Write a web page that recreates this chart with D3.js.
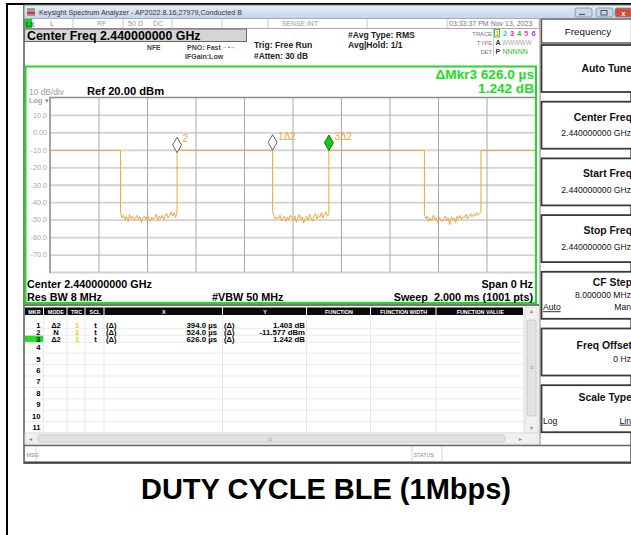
<!DOCTYPE html>
<html>
<head>
<meta charset="utf-8">
<script src="https://cdn.jsdelivr.net/npm/d3@7"></script>
<style>
body { margin: 0; background: #fff; }
svg { display: block; font-family: "Liberation Sans", Arial, sans-serif; }
</style>
</head>
<body>
<script>
// values
var yTickValues = [10, 0, -10, -20, -30, -40, -50, -60, -70];
var yTickLabels = ["10.0", "0.00", "-10.0", "-20.0", "-30.0", "-40.0", "-50.0", "-60.0", "-70.0"];
var xGridTimes = [0.2, 0.4, 0.6, 0.8, 1.0, 1.2, 1.4, 1.6, 1.8]; // ms
var burstOn = [0, 0.524, 1.150, 1.777];      // ms
var burstOff = [0.291, 0.918, 1.544, 2.0];   // ms
var burstLevel = [-10.3, -10.2, -10.3, -10.3]; // dBm
// noise floor between bursts (dBm)
var gap1 = [-46, -49, -47.5, -50, -48, -51, -47, -49.5, -48, -50.5, -49, -47.5, -50, -48.5, -51.5, -49, -48, -50, -47.5, -49,
  -51, -48.5, -50, -49, -47, -50.5, -48, -49.5, -47.5, -50, -48, -46.5, -49, -47.5, -45.5, -48, -46, -49, -45];
var gap2 = [-45.5, -48, -50, -48.5, -49.5, -47.5, -50.5, -49, -48, -51, -48.5, -50, -47.5, -49, -50.5, -48, -51.5, -49, -47, -50,
  -48.5, -52, -49.5, -48, -50.5, -47, -49, -51, -48, -46.5, -49.5, -47.5, -48.5, -46, -49, -47, -45.5, -48, -46.5];
var gap3 = [-47, -49.5, -48, -51, -49, -50.5, -47.5, -50, -49, -52, -48.5, -50, -51, -49.5, -48, -50.5, -49, -53, -48.5, -50,
  -49, -51.5, -48, -49.5, -47.5, -50, -48.5, -49, -47, -49.5, -48, -46.5, -48.5, -47, -48, -46, -47.5, -46.5, -45.5];
var gaps = [gap1, gap2, gap3];

var markerNames = ["1\u03942", "2", "3\u03942"];
var markerTimes = [0.918, 0.524, 1.150];
var markerLevels = [-10.174, -11.577, -10.335];

var tableHeads = ["MKR", "MODE", "TRC", "SCL", "X", "Y", "FUNCTION", "FUNCTION WIDTH", "FUNCTION VALUE"];
var tableRows = ["1", "2", "3", "4", "5", "6", "7", "8", "9", "10", "11"];
var rowModes = ["\u03942", "N", "\u03942"];
var rowX = ["394.0 \u00b5s", "524.0 \u00b5s", "626.0 \u00b5s"];
var rowY = ["1.403 dB", "-11.577 dBm", "1.242 dB"];

var softkeyTitles = ["Auto Tune", "Center Freq", "Start Freq", "Stop Freq", "CF Step", "Freq Offset", "Scale Type"];
var softkeyValues = ["", "2.440000000 GHz", "2.440000000 GHz", "2.440000000 GHz", "8.000000 MHz", "0 Hz", ""];

var W = 631, H = 535;
var orange = "#f2a33a";
var green = "#1edc1e";

const svg = d3.select("body").append("svg")
  .attr("width", W)
  .attr("height", H);

function txt(x, y, s, size, opt) {
  opt = opt || {};
  return svg.append("text")
    .attr("x", x)
    .attr("y", y)
    .attr("font-size", size)
    .attr("font-weight", opt.bold ? "bold" : null)
    .attr("fill", opt.fill || "#000")
    .attr("text-anchor", opt.anchor || "start")
    .text(s);
}
function rect(x, y, w, h, fill, stroke, sw) {
  return svg.append("rect")
    .attr("x", x).attr("y", y).attr("width", w).attr("height", h)
    .attr("fill", fill || "none")
    .attr("stroke", stroke || "none")
    .attr("stroke-width", sw || 1);
}
function hline(x1, x2, y, c, sw) {
  svg.append("line").attr("x1", x1).attr("x2", x2).attr("y1", y).attr("y2", y)
    .attr("stroke", c).attr("stroke-width", sw || 1);
}
function vline(x, y1, y2, c, sw) {
  svg.append("line").attr("x1", x).attr("x2", x).attr("y1", y1).attr("y2", y2)
    .attr("stroke", c).attr("stroke-width", sw || 1);
}

// page frame
hline(6, W, 4, "#000", 2);
vline(7, 3, H, "#000", 2);

// screenshot window
rect(24, 5, W - 24, 458, "#fff", "#555", 1.5);

// title bar
var grad = svg.append("defs").append("linearGradient")
  .attr("id", "tb").attr("x1", 0).attr("x2", 0).attr("y1", 0).attr("y2", 1);
grad.append("stop").attr("offset", 0).attr("stop-color", "#e6eef8");
grad.append("stop").attr("offset", 1).attr("stop-color", "#c6d5ea");
rect(24.5, 5.5, W - 24, 12.5, "url(#tb)");
rect(27, 8, 8, 8, "#9a9a9a");
rect(27, 12, 8, 2, "#e03030");
txt(39, 14.5, "Keysight Spectrum Analyzer - AP2022.8.16,27979,Conducted B", 7.2, { fill: "#333" });
[[575, "#c9d6e8"], [596, "#c9d6e8"], [615, "#d0503c"]].forEach(function (b) {
  rect(b[0], 8, 17, 9, b[1], "#7d8ea8", 0.8).attr("rx", 2);
});
hline(579, 585, 14.5, "#556", 1.2);
rect(601, 10.5, 6, 4.5, "none", "#556", 1);
txt(623.5, 15.5, "x", 7, { fill: "#fff", anchor: "middle", bold: true });

// status row
hline(24, 540, 18.5, "#aaa", 1);
hline(24, 540, 28.5, "#aaa", 1);
rect(25, 19, 7, 9, "#22cc22");
txt(26, 26.5, "LX", 6.5, { bold: true, fill: "#063" });
[33, 73, 123, 172, 222, 268, 367, 447, 539].forEach(function (x) { vline(x, 19, 28, "#c8c8c8", 1); });
txt(50, 26, "L", 7, { fill: "#777" });
txt(97, 26, "RF", 7, { fill: "#999" });
txt(128, 26, "50 \u03a9", 7, { fill: "#999" });
txt(153, 26, "DC", 7, { fill: "#999" });
txt(282, 26, "SENSE:INT", 6.8, { fill: "#999" });
txt(449, 26, "03:33:37 PM Nov 13, 2023", 7, { fill: "#777" });

// center freq box
rect(24.5, 29, 222, 12.5, "#d5d5d5", "#666", 1);
txt(27, 40.3, "Center Freq 2.440000000 GHz", 12.4, { bold: true });

// acquisition info
txt(147, 49.5, "NFE", 6.8, { bold: true, fill: "#444" });
txt(187, 49.5, "PNO: Fast", 7, { bold: true, fill: "#444" });
txt(222, 49, "\u2190\u2022\u2192", 6, { fill: "#444" });
txt(185, 58.5, "IFGain:Low", 7, { bold: true, fill: "#444" });
txt(254, 47.5, "Trig: Free Run", 8.6, { bold: true, fill: "#222" });
txt(254, 59, "#Atten: 30 dB", 8.4, { bold: true, fill: "#222" });
txt(348, 38, "#Avg Type: RMS", 8.6, { bold: true, fill: "#222" });
txt(348, 47.5, "Avg|Hold: 1/1", 8.6, { bold: true, fill: "#222" });

// trace legend
txt(492, 36, "TRACE", 5.8, { fill: "#777", anchor: "end" });
txt(492, 45, "TYPE", 5.8, { fill: "#777", anchor: "end" });
txt(492, 54, "DET", 5.8, { fill: "#777", anchor: "end" });
vline(493.5, 29, 56, "#bbb", 0.8);
rect(494.5, 29.5, 5, 7.5, "none", "#22cc22", 0.9);
var traceColors = ["#f0a000", "#12c6e6", "#e030e0", "#22c022", "#ff4488", "#a040ff"];
traceColors.forEach(function (c, i) {
  txt(495.5 + i * 7.2, 36, String(i + 1), 7.5, { fill: c, bold: true });
});
txt(495.5, 45, "A", 7, { fill: "#333", bold: true });
txt(502, 45, "WWWWW", 6.3, { fill: "#aaa" });
txt(495.5, 54, "P", 7, { fill: "#333", bold: true });
txt(502.5, 54, "NNNNN", 7, { fill: "#22c022" });

// ---- plot area
var x = d3.scaleLinear().domain([0, 2]).range([50, 535]);
var y = d3.scaleLinear().domain([-80, 20]).range([272, 97.5]);

rect(25.5, 66.5, 510.5, 236.5, "none", green, 2);

svg.append("g")
  .attr("class", "ygrid")
  .attr("transform", "translate(50,0)")
  .call(d3.axisLeft(y).tickValues(yTickValues.concat([-80])).tickSize(-485)
    .tickFormat(function (d, i) { return yTickLabels[i] || ""; }))
  .call(function (g) {
    g.select(".domain").remove();
    g.selectAll("line").attr("stroke", "#d2d2d2").attr("stroke-width", 1.8);
    g.selectAll("text").attr("fill", "#a6a6a6").attr("font-size", 7.2).attr("font-family", "Liberation Sans, Arial");
  });

svg.append("g")
  .attr("class", "xgrid")
  .attr("transform", "translate(0,272)")
  .call(d3.axisBottom(x).tickValues(xGridTimes).tickSize(-(272 - 97.5)).tickFormat(""))
  .call(function (g) {
    g.select(".domain").remove();
    g.selectAll("line").attr("stroke", "#a9a9a9").attr("stroke-width", 1);
  });

hline(49.5, 535, 97.5, "#8c8c8c", 1.6);
vline(50, 97, 273, "#8c8c8c", 1.6);

txt(29, 95, "10 dB/div", 8.4, { fill: "#a0a0a0" });
txt(29, 103, "Log", 7.4, { fill: "#a0a0a0", bold: true });
txt(45, 103, "\u25be", 6.5, { fill: "#888" });
txt(87, 95, "Ref 20.00 dBm", 11.2, { bold: true });
txt(534, 79, "\u0394Mkr3 626.0 \u00b5s", 13.6, { bold: true, fill: green, anchor: "end" });
txt(534, 93, "1.242 dB", 13.6, { bold: true, fill: green, anchor: "end" });

// build trace points: bursts at a flat level, noise floor samples spread across each gap
var pts = [];
burstOn.forEach(function (t0, i) {
  pts.push([t0, burstLevel[i]]);
  pts.push([burstOff[i], burstLevel[i]]);
  var g = gaps[i];
  if (g) {
    var a = burstOff[i], b = burstOn[i + 1];
    g.forEach(function (v, j) {
      pts.push([a + (b - a) * j / (g.length - 1), v]);
    });
  }
});

const line = d3.line()
  .x(function (d) { return x(d[0]); })
  .y(function (d) { return y(d[1]); });

svg.append("path")
  .datum(pts)
  .attr("d", line)
  .attr("fill", "none")
  .attr("stroke", orange)
  .attr("stroke-width", 1);

// markers
markerTimes.forEach(function (t, i) {
  var mx = x(t), my = y(markerLevels[i]);
  svg.append("path")
    .attr("d", "M" + mx + "," + my + " l4.5,-7.7 l-4.5,-7.7 l-4.5,7.7 z")
    .attr("fill", i === 2 ? "#16c816" : "#fff")
    .attr("stroke", i === 2 ? "#0a6a0a" : "#555")
    .attr("stroke-width", 0.9);
  txt(mx + 5.5, my - 10.5, markerNames[i], 10, { fill: orange });
});

// bottom settings inside the frame
txt(27, 288, "Center 2.440000000 GHz", 10.8, { bold: true });
txt(27, 300.5, "Res BW 8 MHz", 10.8, { bold: true });
txt(212, 300.5, "#VBW 50 MHz", 10.8, { bold: true });
txt(533, 288, "Span 0 Hz", 10.8, { bold: true, anchor: "end" });
txt(533, 300.5, "Sweep\u00a0\u00a02.000 ms (1001 pts)", 10.8, { bold: true, anchor: "end" });

// ---- marker table
hline(24, 539, 305, "#777", 2);
var colEdges = [25, 44, 67.5, 85.5, 104.5, 223, 307, 371, 436.5, 524];
tableHeads.forEach(function (h, i) {
  rect(colEdges[i], 307.5, colEdges[i + 1] - colEdges[i] - 1, 7.5, "#0a0a0a");
  txt((colEdges[i] + colEdges[i + 1]) / 2, 313.6, h, 5.4, { fill: "#fff", bold: true, anchor: "middle" });
});

function rowCenter(i) {
  if (i < 3) return 324.8 + i * 7;
  return 347.5 + (i - 3) * 11.4;
}
rect(25, rowCenter(2) - 3.5, 18.5, 7, "#22dd22");
for (var r = 0; r < tableRows.length; r++) {
  var cy = rowCenter(r) + 2.7;
  var lineY = r < 3 ? rowCenter(r) + 3.5 : rowCenter(r) + 5.7;
  hline(25, 524, lineY, "#e6e6e6", 0.8);
  txt(40.5, cy, tableRows[r], 7.6, { bold: true, anchor: "end" });
  if (r < 3) {
    txt(56, cy, rowModes[r], 7.6, { bold: true, anchor: "middle" });
    txt(77, cy, "1", 7.6, { fill: "#e8d000", bold: true, anchor: "middle" });
    txt(95.5, cy, "t", 7.6, { bold: true, anchor: "middle" });
    txt(106, cy, "(\u0394)", 7.6, { bold: true });
    txt(217, cy, rowX[r], 7.8, { bold: true, anchor: "end" });
    txt(224, cy, "(\u0394)", 7.6, { bold: true });
    txt(305, cy, rowY[r], 7.8, { bold: true, anchor: "end" });
  }
}
colEdges.slice(1).forEach(function (cx) { vline(cx - 0.5, 315, 433, "#e2e2e2", 0.8); });

// scrollbars
rect(525, 307, 13, 126, "#f0f0f0", "#d8d8d8", 0.8);
rect(527, 320, 9, 96, "#e2e2e2", "#c4c4c4", 0.8).attr("rx", 2);
txt(531.5, 312.5, "\u25b4", 6, { fill: "#888", anchor: "middle" });
txt(531.5, 430, "\u25be", 6, { fill: "#888", anchor: "middle" });
txt(531.5, 370, "\u2261", 7, { fill: "#999", anchor: "middle" });
rect(25, 433, 513, 11, "#f0f0f0", "#d8d8d8", 0.8);
rect(38, 435, 467, 7, "#e2e2e2", "#c4c4c4", 0.8).attr("rx", 2);
txt(30, 441, "\u25c2", 6, { fill: "#888", anchor: "middle" });
txt(520, 441, "\u25b8", 6, { fill: "#888", anchor: "middle" });
txt(270, 441.5, "\u2261", 7, { fill: "#999", anchor: "middle" });

// message bar
hline(24, W, 445.5, "#666", 1.5);
vline(36, 446, 462, "#ccc", 0.8);
txt(26.5, 456.5, "MSG", 5.4, { fill: "#888" });
vline(412, 446, 462, "#ccc", 0.8);
vline(442, 446, 462, "#ccc", 0.8);
txt(413.5, 456.5, "STATUS", 5.4, { fill: "#888" });
hline(24, W, 462.5, "#444", 2);

// ---- softkey panel
vline(540, 18, 445, "#999", 1.2);
rect(541.5, 19, W - 541, 24, "#fff", "#555", 1.4);
txt(588, 35, "Frequency", 9.8, { fill: "#111", anchor: "middle" });
softkeyTitles.forEach(function (s, i) {
  var top = 44 + i * 56.7;
  rect(541.5, top + 1, W - 540, 47, "#fff", "#3a3a3a", 1.8);
  var tY = top + 20, vY = top + 35.5;
  if (i === 0) tY = top + 28;
  if (i === 4) { tY = top + 15; vY = top + 27; }
  if (i === 5) { tY = top + 21.5; vY = top + 34; }
  if (i === 6) tY = top + 17;
  txt(632, tY, s, 10.4, { bold: true, anchor: "end", fill: "#111" });
  if (softkeyValues[i]) txt(631, vY, softkeyValues[i], 8.6, { anchor: "end", fill: "#111" });
});
txt(543, 44 + 4 * 56.7 + 39.5, "Auto", 8.6, { fill: "#111" }).attr("text-decoration", "underline");
txt(631, 44 + 4 * 56.7 + 39.5, "Man", 8.6, { fill: "#111", anchor: "end" });
txt(543, 44 + 6 * 56.7 + 39.5, "Log", 8.6, { fill: "#111" });
txt(631, 44 + 6 * 56.7 + 39.5, "Lin", 8.6, { fill: "#111", anchor: "end" }).attr("text-decoration", "underline");

// caption under the screenshot
txt(326, 499, "DUTY CYCLE BLE (1Mbps)", 29, { bold: true, anchor: "middle" });
</script>
</body>
</html>
